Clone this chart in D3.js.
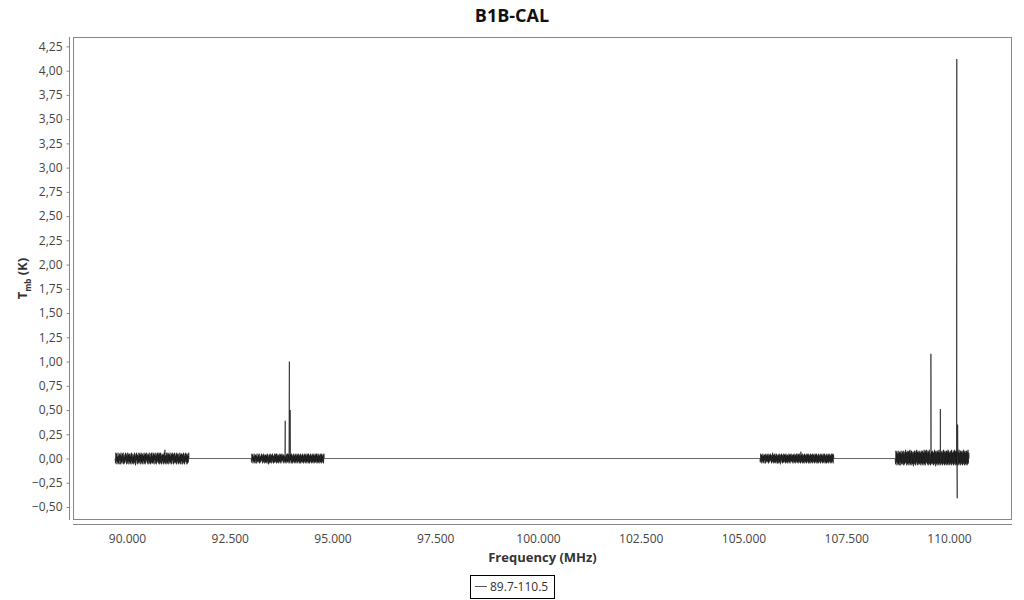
<!DOCTYPE html>
<html>
<head>
<meta charset="utf-8">
<script src="https://cdn.jsdelivr.net/npm/d3@7"></script>
<style>
  html, body { margin: 0; padding: 0; background: #fff; }
  svg { display: block; font-family: "Open Sans", "Noto Sans", sans-serif; }
</style>
</head>
<body>
<svg id="chart" width="1024" height="600"></svg>
<script>
// ---- Data ----
const title = "B1B-CAL";
const seriesName = "89.7-110.5";
const xTicks = [90, 92.5, 95, 97.5, 100, 102.5, 105, 107.5, 110];
const yTicks = [-0.5, -0.25, 0, 0.25, 0.5, 0.75, 1, 1.25, 1.5, 1.75, 2, 2.25, 2.5, 2.75, 3, 3.25, 3.5, 3.75, 4, 4.25];

// Frequency ranges of the four sub-bands (MHz)
const bandStart = [89.71, 93.02, 105.40, 108.69];
const bandEnd   = [91.51, 94.80, 107.20, 110.49];

// Baseline noise channels of each sub-band (K)
const band1 = [0,-.05,.06,-.03,.05,-.06,.02,-.04,.06,-.05,.03,-.06,.05,-.02,.04,-.06,.06,-.04,.03,-.05,
  .05,-.03,.06,-.06,.02,-.05,.04,-.04,.06,-.02,.05,-.06,.03,-.05,.06,-.03,.04,-.06,.05,-.04,
  .05,-.05,.03,-.06,.06,-.03,.05,-.05,.02,-.06,.04,-.04,.06,-.05,.03,-.07,.05,-.02,.06,-.05,
  .04,-.06,.03,-.04,.06,-.05,.05,-.03,.04,-.06,.06,-.04,.04,-.05,.05,-.06,.03,-.03,.06,-.05,
  .04,-.06,.05,-.04,.06,-.02,.03,-.05,.05,-.06,.04,-.03,.06,-.05,.02,-.06,.05,-.04,.06,-.05,
  .03,-.05,.06,-.04,.05,-.06,.04,-.02,.06,-.05,.03,-.06,.05,-.04,.06,-.03,.04,-.05,.06,-.06,
  .05,-.04,.06,-.05,.03,-.06,.05,-.03,.04,-.05,.04,-.06,.06,-.04,.09,-.05,.03,-.06,.06,-.04,
  .04,-.05,.06,-.06,.05,-.03,.04,-.05,.06,-.04,.03,-.06,.05,-.05,.06,-.02,.04,-.06,.05,-.04,
  .06,-.05,.03,-.04,.05,-.06,.06,-.03,.04,-.05,.05,-.06,.02,-.04,.06,-.05,.04,-.06,.05,-.03,
  .05,-.06,.04,-.04,.06,-.05,.03,-.06,.05,-.03,.06,-.04,.04,-.06,.05,-.05,.03,-.04,.06,0];
const band2 = [0,-.04,.05,-.02,.04,-.05,.02,-.03,.05,-.04,.03,-.05,.04,-.02,.03,-.05,.05,-.03,.02,-.04,
  .04,-.03,.05,-.05,.02,-.04,.03,-.03,.05,-.02,.04,-.05,.03,-.04,.05,-.03,.03,-.05,.04,-.04,
  .04,-.04,.03,-.05,.05,-.03,.04,-.06,.02,-.05,.04,-.04,.05,-.04,.03,-.05,.04,-.02,.05,-.04,
  .03,-.05,.03,-.04,.05,-.04,.04,-.03,.05,-.05,.05,-.04,.03,-.04,.04,-.05,.03,-.03,.05,-.04,
  .04,-.05,.04,-.03,.05,-.02,.03,-.04,.04,-.05,.03,-.03,.05,-.04,.02,-.05,.04,-.03,.05,-.04,
  .05,-.03,.04,-.05,.03,-.04,.05,-.02,.04,-.05,.05,-.04,.03,-.05,.04,-.03,.05,-.04,.03,-.05,
  .04,-.04,.05,-.03,.03,-.05,.04,-.04,.05,-.03,.04,-.05,.03,-.04,.05,-.05,.04,-.03,.03,-.04,
  .05,-.04,.03,-.05,.04,-.03,.05,-.04,.04,-.05,.03,-.04,.05,-.03,.04,-.05,.05,-.04,.03,-.05,
  .04,-.03,.05,-.04,.03,-.05,.04,-.04,.05,-.03,.04,-.05,.03,-.04,.05,-.04,.04,-.03,.05,-.05,
  .03,-.04,.05,-.04,.04,-.05,.03,-.03,.05,-.04,.04,-.05,.05,-.03,.03,-.04,.04,-.05,.05,0];
const band3 = [0,-.04,.05,-.03,.04,-.05,.03,-.03,.05,-.04,.03,-.05,.04,-.02,.04,-.05,.05,-.03,.03,-.04,
  .04,-.03,.05,-.05,.03,-.04,.04,-.03,.05,-.02,.04,-.05,.03,-.04,.06,-.03,.04,-.05,.04,-.04,
  .05,-.04,.03,-.05,.05,-.03,.04,-.05,.03,-.05,.04,-.04,.05,-.04,.03,-.06,.04,-.02,.05,-.04,
  .04,-.05,.03,-.04,.05,-.04,.04,-.03,.04,-.05,.05,-.04,.03,-.04,.04,-.05,.03,-.03,.05,-.04,
  .04,-.05,.04,-.03,.05,-.03,.03,-.04,.04,-.05,.04,-.03,.05,-.04,.03,-.05,.04,-.03,.05,-.04,
  .03,-.04,.05,-.05,.04,-.03,.05,-.04,.03,-.05,.07,-.04,.04,-.03,.05,-.05,.03,-.04,.04,-.05,
  .05,-.03,.04,-.04,.03,-.05,.05,-.04,.04,-.03,.05,-.05,.04,-.04,.03,-.05,.05,-.03,.04,-.04,
  .04,-.05,.05,-.03,.04,-.04,.03,-.05,.05,-.04,.04,-.03,.05,-.05,.03,-.04,.04,-.05,.05,-.03,
  .03,-.04,.04,-.05,.05,-.03,.04,-.04,.03,-.05,.05,-.04,.04,-.03,.05,-.05,.03,-.04,.04,-.05,
  .05,-.04,.03,-.04,.04,-.05,.05,-.03,.04,-.04,.03,-.05,.05,-.04,.04,-.03,.05,-.05,.04,0];
const band4 = [0,-.06,.08,-.04,.07,-.07,.05,-.05,.08,-.06,.06,-.07,.07,-.04,.06,-.07,.08,-.05,.05,-.06,
  .07,-.05,.08,-.07,.05,-.06,.07,-.05,.09,-.04,.07,-.07,.06,-.06,.08,-.05,.07,-.07,.08,-.05,
  .09,-.06,.06,-.07,.08,-.05,.07,-.06,.05,-.08,.07,-.05,.08,-.06,.06,-.07,.08,-.04,.09,-.06,
  .07,-.07,.06,-.05,.08,-.06,.07,-.05,.06,-.07,.08,-.05,.07,-.06,.08,-.07,.06,-.05,.09,-.06,
  .07,-.07,.08,-.05,.09,-.04,.06,-.06,.08,-.07,.07,-.05,.09,-.06,.05,-.07,.08,-.05,.07,-.06,
  .08,-.05,.07,-.07,.06,-.06,.09,-.05,.07,-.08,.08,-.06,.06,-.05,.08,-.07,.07,-.06,.09,-.05,
  .06,-.07,.08,-.06,.07,-.05,.08,-.07,.06,-.06,.09,-.05,.07,-.07,.08,-.06,.06,-.05,.08,-.07,
  .07,-.06,.09,-.05,.08,-.07,.06,-.06,.07,-.05,.08,-.07,.09,-.06,.06,-.05,.07,-.07,.08,-.06,
  .09,-.05,.07,-.07,.08,-.06,.06,-.05,.08,-.07,.07,-.06,.09,-.05,.06,-.07,.08,-.06,.07,-.05,
  .08,-.07,.06,-.06,.09,-.05,.07,-.07,.08,-.06,.06,-.05,.08,-.07,.07,-.06,.09,-.05,.06,0];

// Narrow lines standing out of the baseline
const lineFreq = [93.85, 93.95, 93.97, 109.56, 109.79, 110.19, 110.20, 110.21];
const lineVal  = [0.39, 1.00, 0.50, 1.08, 0.51, 4.12, -0.41, 0.35];

// ---- Build series ----
const bands = [band1, band2, band3, band4];
let points = [];
bands.forEach((vals, b) => {
  const step = (bandEnd[b] - bandStart[b]) / (vals.length - 1);
  vals.forEach((v, i) => points.push({f: bandStart[b] + i * step, v: v}));
});
lineFreq.forEach((f, i) => points.push({f: f, v: lineVal[i]}));
points.sort((a, b) => a.f - b.f);

// ---- Layout ----
const svg = d3.select("#chart");
const L = 73, R = 1012, T = 37, B = 520;
const x = d3.scaleLinear().domain([88.686, 111.533]).range([L, R]);
const y = d3.scaleLinear().domain([-0.634, 4.347]).range([B, T]);

// Title
svg.append("text").attr("x", 512).attr("y", 22).attr("text-anchor", "middle")
  .attr("font-size", 18).attr("font-weight", "bold").attr("fill", "#111").text(title);

// Plot box
svg.append("rect").attr("x", L + 0.5).attr("y", T + 0.5).attr("width", R - L - 1).attr("height", B - T - 1)
  .attr("fill", "none").attr("stroke", "#888").attr("stroke-width", 1);

// Y axis
const yAxis = d3.axisLeft(y).tickValues(yTicks).tickSize(3).tickPadding(4)
  .tickFormat(d => d3.format(".2f")(d).replace(".", ","));
const gy = svg.append("g").attr("transform", `translate(${L - 4 + 0.5},0)`).call(yAxis);
gy.select(".domain").attr("d", `M0,${T}V${B}`).attr("stroke", "#888");
gy.selectAll(".tick line").attr("stroke", "#888");
gy.selectAll(".tick text").attr("font-size", 12).attr("fill", "#444").attr("font-family", "Open Sans, sans-serif");

// X axis
const xAxis = d3.axisBottom(x).tickValues(xTicks).tickSize(0).tickPadding(10)
  .tickFormat(d3.format(".3f"));
const gx = svg.append("g").attr("transform", `translate(0,${B + 4 + 0.5})`).call(xAxis);
gx.select(".domain").attr("d", `M${L},0H${R}`).attr("stroke", "#888");
gx.selectAll(".tick text").attr("font-size", 12).attr("fill", "#444").attr("font-family", "Open Sans, sans-serif");

// Axis titles
svg.append("text").attr("x", (L + R) / 2).attr("y", 562).attr("text-anchor", "middle")
  .attr("font-size", 13).attr("font-weight", "bold").attr("fill", "#333").text("Frequency (MHz)");
const yt = svg.append("text").attr("transform", `translate(27,${(T + B) / 2}) rotate(-90)`)
  .attr("text-anchor", "middle").attr("font-size", 13).attr("font-weight", "bold").attr("fill", "#333");
yt.append("tspan").text("T");
yt.append("tspan").attr("font-size", 8).attr("dy", 4).text("mb");
yt.append("tspan").attr("dy", -4).text(" (K)");

// Data line
const line = d3.line().x(d => x(d.f)).y(d => y(d.v));
svg.append("path").datum(points).attr("d", line)
  .attr("fill", "none").attr("stroke", "#000").attr("stroke-width", 0.6);

// Legend
const lg = svg.append("g").attr("transform", "translate(470,575)");
lg.append("rect").attr("x", 0.5).attr("y", 0.5).attr("width", 84).attr("height", 23)
  .attr("fill", "#fff").attr("stroke", "#000");
lg.append("line").attr("x1", 5).attr("x2", 17).attr("y1", 11.5).attr("y2", 11.5)
  .attr("stroke", "#555").attr("stroke-width", 1);
lg.append("text").attr("x", 20).attr("y", 16).attr("font-size", 12).attr("fill", "#333").text(seriesName);
</script>
</body>
</html>
